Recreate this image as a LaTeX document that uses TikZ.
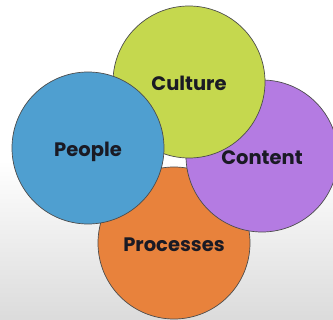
\documentclass[tikz,border=0pt]{standalone}
\usepackage{fontspec}
\setmainfont{Poppins}

\definecolor{peopleblue}{HTML}{4F9FD0}
\definecolor{culturegreen}{HTML}{C5D84E}
\definecolor{contentpurple}{HTML}{B47BE2}
\definecolor{processorange}{HTML}{E8823C}
\definecolor{labelink}{HTML}{1A1A24}

\tikzset{
  blob/.style={circle,draw=black!70,line width=0.7pt,minimum size=152pt,inner sep=0pt,
    text height=17pt,text depth=0pt,
    font=\fontsize{19.5}{22}\selectfont\bfseries,text=labelink}
}

\begin{document}
\begin{tikzpicture}[x=1pt,y=-1pt]
\useasboundingbox (0,0) rectangle (333,320);
\fill[white] (0,0) rectangle (333,320);
\shade[top color=white,bottom color=black!14] (0,160) rectangle (333,320);
\coordinate (P) at (88,148);
\coordinate (Cu) at (189,82);
\coordinate (Co) at (262,156);
\coordinate (Pr) at (174,243);
% back to front
\node[blob,fill=processorange] (processes) at (Pr) {Processes};
\node[blob,fill=contentpurple] (content) at (Co) {Content};
\node[blob,fill=culturegreen] (culture) at (Cu) {Culture};
\node[blob,fill=peopleblue] (people) at (P) {People};
\end{tikzpicture}
\end{document}
